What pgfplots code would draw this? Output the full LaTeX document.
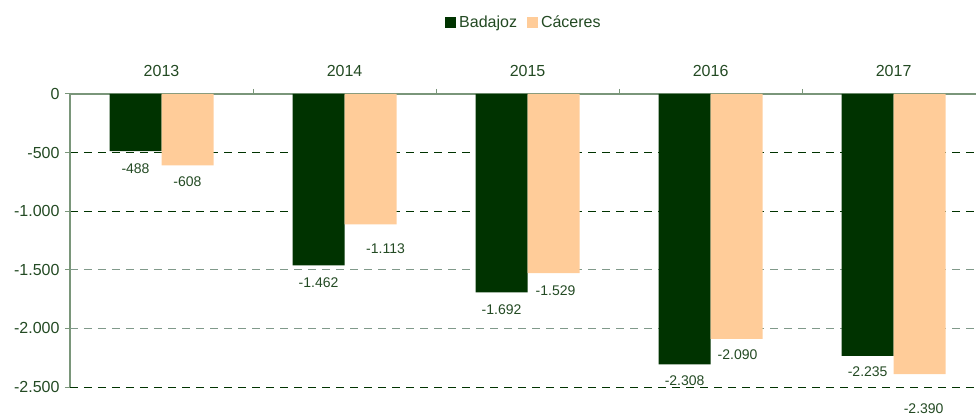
\documentclass[border=0pt]{standalone}
\usepackage{pgfplots}
\pgfplotsset{compat=1.18}
\usepackage{fontspec}
\setmainfont{Liberation Sans}
\definecolor{bad}{HTML}{003300}
\definecolor{cac}{HTML}{FFCC99}
\definecolor{txt}{HTML}{234A23}
\definecolor{axl}{HTML}{7A967A}
\definecolor{gridl}{HTML}{80998A}
\begin{document}
\begin{tikzpicture}
\begin{axis}[
  scale only axis, width=906bp, height=293bp,
  xmin=-0.5, xmax=4.45, ymin=-2500, ymax=0,
  axis x line=top, axis y line=left,
  axis line style={axl, line width=1.6bp, -},
  xtick={0,1,2,3,4}, xticklabels={2013,2014,2015,2016,2017},
  major x tick style={draw=none},
  minor xtick={0.5,1.5,2.5,3.5},
  minor x tick style={axl, line width=1bp},
  minor tick length=5bp,
  xticklabel style={font=\fontsize{16bp}{18bp}\selectfont, text=txt, yshift=9bp},
  ytick={-2500,-1000,-500,0},
  extra y ticks={-2000,-1500},
  extra y tick style={grid style={gridl, line width=0.9bp, dash pattern=on 8bp off 6bp}},
  y tick style={axl, line width=1bp},
  major tick length=5bp,
  tick align=outside,
  ymajorgrids,
  grid style={bad, line width=0.9bp, dash pattern=on 8bp off 6bp},
  yticklabel style={font=\fontsize{16bp}{18bp}\selectfont, text=txt, xshift=-2bp},
  /pgf/number format/.cd, 1000 sep={.}, assume math mode=true,
  /pgfplots/.cd,
  scaled y ticks=false,
  clip=false,
  legend columns=2,
  legend style={at={(0.501,1)}, anchor=south, yshift=61bp, draw=none,
    font=\fontsize{16bp}{18bp}\selectfont, text=txt,
    /tikz/every even column/.append style={column sep=8bp},
    /tikz/every odd column/.append style={column sep=1bp}},
  legend image code/.code={\fill[#1,draw=none] (0bp,-5.5bp) rectangle (11bp,5.5bp);},
]
% bars
\addplot[ybar, bar width=52bp, bar shift=-26bp, fill=bad, draw=none]
  coordinates {(0,-488) (1,-1462) (2,-1692) (3,-2308) (4,-2235)};
\addplot[ybar, bar width=52bp, bar shift=26bp, fill=cac, draw=none]
  coordinates {(0,-608) (1,-1113) (2,-1529) (3,-2090) (4,-2390)};
\legend{Badajoz, Cáceres}
% data labels
\addplot[only marks, mark=none, forget plot, point meta=explicit symbolic,
  nodes near coords, every node near coord/.append style={anchor=center,
  font=\fontsize{14bp}{16bp}\selectfont, text=txt}]
  coordinates {(-0.142,-633) [-488] (0.858,-1607) [-1.462] (1.858,-1837) [-1.692]
               (2.858,-2445) [-2.308] (3.858,-2372) [-2.235]
               (0.142,-745) [-608] (1.224,-1318) [-1.113] (2.153,-1674) [-1.529]
               (3.147,-2227) [-2.090] (4.164,-2689) [-2.390]};
\coordinate (tl) at (rel axis cs:0,1);
\end{axis}
\pgfresetboundingbox
\path[use as bounding box] (tl) ++(-70bp,94bp) rectangle ++(976bp,-415bp);
\end{tikzpicture}
\end{document}
